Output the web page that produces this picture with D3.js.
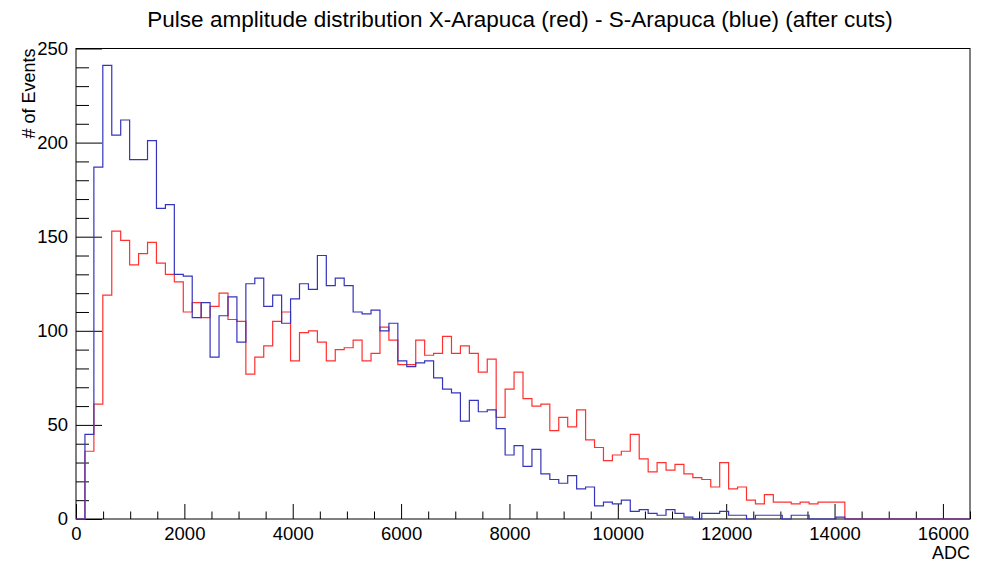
<!DOCTYPE html>
<html>
<head>
<meta charset="utf-8">
<script src="https://cdn.jsdelivr.net/npm/d3@7"></script>
<style>
  body { margin: 0; background: #fff; }
  svg { display: block; font-family: 'Liberation Sans', Arial, sans-serif; }
  .axis path { display: none; }
  .axis line { stroke: #000; }
  .axis text { fill: #000; font-size: 18.5px; }
</style>
</head>
<body>
<svg id="chart" width="987" height="562"></svg>
<script>
// 100 bins of 165 ADC from 0 to 16500
const nBins = 100;
const binWidth = 165;

// X-Arapuca (red), counts per bin
const redCounts = [
  0, 36, 61, 119, 153, 148, 135, 141, 147, 136,
  130, 126, 110, 115, 107, 113, 120, 106, 105, 77,
  86, 92, 105, 110, 84, 99, 100, 94, 84, 90,
  91, 95, 84, 88, 102, 95, 82, 82, 95, 87,
  88, 97, 88, 92, 88, 78, 85, 54, 69, 78,
  64, 60, 61, 47, 54, 49, 58, 42, 38, 31,
  34, 36, 45, 32, 25, 30, 26, 29, 24, 22,
  21, 17, 30, 16, 17, 10, 8, 13, 9, 9,
  8, 9, 8, 9, 9, 9, 0, 0, 0, 0,
  0, 0, 0, 0, 0, 0, 0, 0, 0, 0
];

// S-Arapuca (blue), counts per bin
const blueCounts = [
  0, 45, 187, 241, 204, 212, 191, 191, 201, 165,
  167, 130, 129, 107, 115, 86, 108, 118, 94, 125,
  128, 113, 119, 104, 117, 125, 122, 140, 124, 128,
  124, 110, 109, 111, 100, 104, 84, 81, 83, 84,
  75, 69, 67, 52, 63, 57, 58, 48, 34, 39,
  28, 37, 24, 21, 19, 23, 16, 17, 7, 9,
  8, 10, 4, 5, 3, 2, 5, 3, 1, 0,
  3, 3, 4, 2, 2, 0, 2, 2, 2, 0,
  2, 2, 0, 0, 0, 1, 0, 0, 0, 0,
  0, 0, 0, 0, 0, 0, 0, 0, 0, 0
];

const xMajor = [0, 2000, 4000, 6000, 8000, 10000, 12000, 14000, 16000];
const yMajor = [0, 50, 100, 150, 200, 250];

const frame = { left: 76, right: 970, top: 48.5, bottom: 519 };
const svg = d3.select('#chart');

const x = d3.scaleLinear()
  .domain([0, nBins * binWidth])
  .range([frame.left, frame.right]);

const y = d3.scaleLinear()
  .domain([0, 250])
  .range([frame.bottom, frame.top]);

// minor ticks
const xMinor = d3.range(0, nBins * binWidth + 1, 500).filter(v => v % 2000 !== 0);
const yMinor = d3.range(0, 251, 10).filter(v => v % 50 !== 0);

svg.append('g')
  .attr('class', 'axis')
  .attr('transform', `translate(0,${frame.bottom})`)
  .call(d3.axisBottom(x).tickValues(xMinor).tickSize(-7.5).tickFormat(''));

svg.append('g')
  .attr('class', 'axis')
  .attr('transform', `translate(0,${frame.bottom})`)
  .call(d3.axisBottom(x).tickValues(xMajor).tickSize(-15).tickPadding(7.5).tickFormat(d3.format('d')));

svg.append('g')
  .attr('class', 'axis')
  .attr('transform', `translate(${frame.left},0)`)
  .call(d3.axisLeft(y).tickValues(yMinor).tickSize(-13).tickFormat(''));

svg.append('g')
  .attr('class', 'axis')
  .attr('transform', `translate(${frame.left},0)`)
  .call(d3.axisLeft(y).tickValues(yMajor).tickSize(-26).tickPadding(8).tickFormat(d3.format('d')));

// frame
svg.append('rect')
  .attr('x', frame.left)
  .attr('y', frame.top)
  .attr('width', frame.right - frame.left)
  .attr('height', frame.bottom - frame.top)
  .attr('fill', 'none')
  .attr('stroke', '#000')
  .attr('stroke-width', 1);

function histPoints(counts) {
  const pts = counts.map((c, i) => [i * binWidth, c]);
  pts.push([nBins * binWidth, counts[counts.length - 1]]);
  return pts;
}

const line = d3.line()
  .x(d => x(d[0]))
  .y(d => y(d[1]))
  .curve(d3.curveStepAfter);

svg.append('path')
  .datum(histPoints(redCounts))
  .attr('d', line)
  .attr('fill', 'none')
  .attr('stroke', '#ff3030')
  .attr('stroke-width', 1.2);

svg.append('path')
  .datum(histPoints(blueCounts))
  .attr('d', line)
  .attr('fill', 'none')
  .attr('stroke', '#3434bc')
  .attr('stroke-width', 1.2);

// titles
svg.append('text')
  .attr('x', 520)
  .attr('y', 27)
  .attr('text-anchor', 'middle')
  .style('font-size', '22.5px')
  .text('Pulse amplitude distribution X-Arapuca (red) - S-Arapuca (blue) (after cuts)');

svg.append('text')
  .attr('x', frame.right)
  .attr('y', 559)
  .attr('text-anchor', 'end')
  .style('font-size', '18px')
  .text('ADC');

svg.append('text')
  .attr('transform', `translate(35,${frame.top}) rotate(-90)`)
  .attr('text-anchor', 'end')
  .style('font-size', '18px')
  .text('# of Events');
</script>
</body>
</html>
